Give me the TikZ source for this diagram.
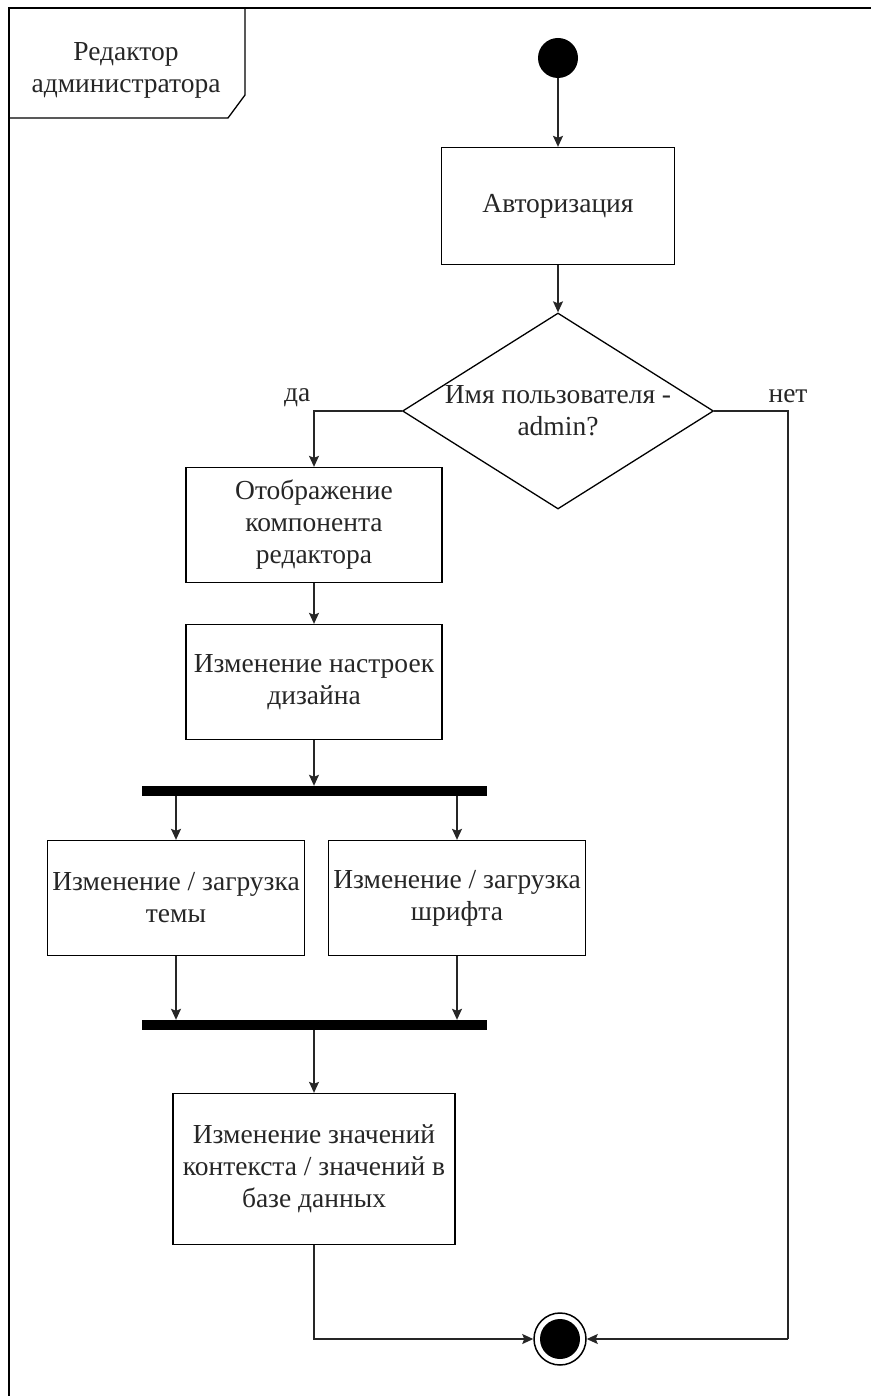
\documentclass[tikz,border=0pt]{standalone}
\usepackage{fontspec}
\setmainfont{Liberation Serif}
\usetikzlibrary{shapes.geometric,
	arrows.meta,
	positioning,
	calc}

\begin{document}
\begin{tikzpicture}[x=1pt, y=-1pt,
	every node/.style={font=\fontsize{27.5}{32}\selectfont, align=center, inner sep=0pt, text=black!85},
	action/.style={draw, line width=1.3, rectangle},
	bar/.style={fill=black, rectangle, minimum width=345, minimum height=10},
	flow/.style={line width=1.3, black!85, -{Stealth[length=11, width=10, inset=2]}}]
	\useasboundingbox (0, 0) rectangle (871, 1396);
	\draw[line width=1.5] (9, 1396) -- (9, 8) -- (871, 8);
	\draw[line width=1.3] (9, 118) -- (228, 118) -- (245, 95) -- (245, 8);
	\node (title) at (126, 70) {Редактор\\администратора};

	\node[circle, fill=black, minimum size=40] (start) at (558, 58) {};
	\node[action, minimum width=233, minimum height=117] (auth) at (558, 206) {Авторизация};
	\node[action, diamond, shape aspect=1.6, inner sep=-7pt, minimum width=311, minimum height=196] (check) at (558, 411) {Имя пользователя -\\admin?};
	\node[action, minimum width=256, minimum height=115] (disp) at (314, 525) {Отображение\\компонента\\редактора};
	\node[action, minimum width=256, minimum height=115] (design) at (314, 682) {Изменение настроек\\дизайна};
	\node[bar] (fork) at (314, 791) {};
	\node[action, minimum width=257, minimum height=115] (theme) at (176, 898) {Изменение / загрузка\\темы};
	\node[action, minimum width=257, minimum height=115] (typeface) at (457, 898) {Изменение / загрузка\\шрифта};
	\node[bar] (join) at (314, 1025) {};
	\node[action, minimum width=282, minimum height=151] (ctx) at (314, 1169) {Изменение значений\\контекста / значений в\\базе данных};
	\node[circle, draw, line width=1.5, minimum size=52,
		path picture={\fill[black] (path picture bounding box.center) circle (20);}] (stop) at (560, 1339) {};
	\coordinate (nobend) at (788, 1339);

	\draw[flow] (start) -- (auth);
	\draw[flow] (auth) -- (check);
	\draw[flow] (check.west) -| node[pos=0.5, above left=4pt and 3pt] (yes) {да} (disp.north);
	\draw[line width=1.3, black!85] (check.east) -| node[pos=0.5, above=8pt] (no) {нет} (nobend);
	\draw[flow] (nobend) -- (stop);
	\draw[flow] (disp) -- (design);
	\draw[flow] (design.south) -- (design.south |- fork.north);
	\draw[flow] (fork.south -| theme) -- (theme);
	\draw[flow] (fork.south -| typeface) -- (typeface);
	\draw[flow] (theme) -- (theme |- join.north);
	\draw[flow] (typeface) -- (typeface |- join.north);
	\draw[flow] (join.south -| ctx) -- (ctx);
	\draw[flow] (ctx) |- (stop);
\end{tikzpicture}
\end{document}
